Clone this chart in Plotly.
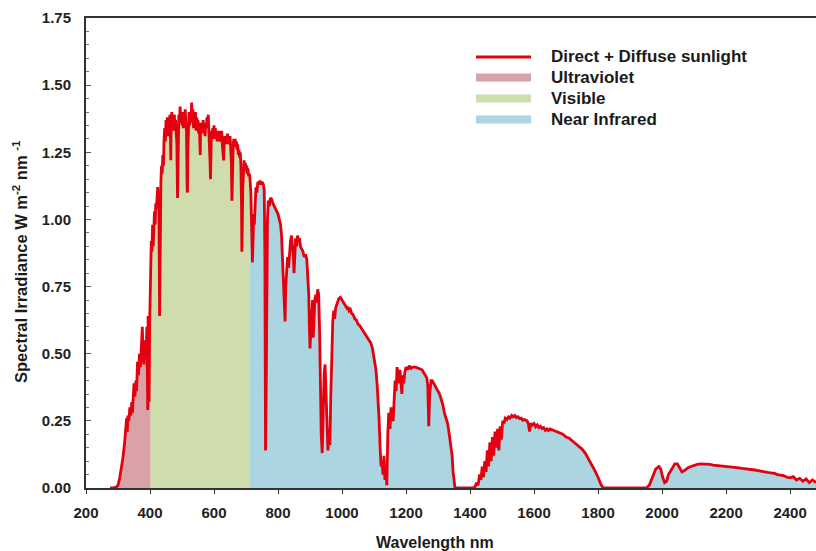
import plotly.graph_objects as go

# Solar spectral irradiance (direct + diffuse), W m^-2 nm^-1, as (nm, value) pairs
spectrum = [
    # ultraviolet
    (275, 0.0), (285, 0.0), (295, 0.004), (300, 0.01), (305, 0.035), (310, 0.07), (315, 0.11),
    (320, 0.16), (325, 0.23), (327, 0.26), (329, 0.21), (331, 0.27), (334, 0.25), (337, 0.30),
    (340, 0.27), (343, 0.32), (345, 0.28), (348, 0.36), (350, 0.39), (353, 0.34), (356, 0.40),
    (358, 0.36), (361, 0.47), (364, 0.42), (367, 0.50), (370, 0.45), (373, 0.52), (376, 0.60),
    (378, 0.50), (381, 0.46), (384, 0.55), (386, 0.54), (388, 0.48), (390, 0.60), (392, 0.40),
    (393, 0.29), (394, 0.64), (396, 0.50), (397, 0.32), (399, 0.62), (402, 0.80),
    # visible
    (404, 0.92), (406, 0.88), (408, 0.98), (410, 0.90), (412, 1.00), (414, 1.03), (416, 0.98),
    (418, 1.06), (420, 1.04), (422, 1.09), (424, 1.12), (426, 1.08), (428, 1.02), (430, 0.64),
    (432, 1.04), (434, 1.14), (436, 1.20), (438, 1.17), (440, 1.24), (442, 1.20), (444, 1.30),
    (446, 1.34), (448, 1.29), (450, 1.37), (452, 1.33), (454, 1.38), (456, 1.31), (458, 1.36),
    (460, 1.33), (462, 1.39), (464, 1.30), (465, 1.22), (466, 1.36), (468, 1.40), (470, 1.35),
    (472, 1.38), (474, 1.33), (476, 1.39), (478, 1.34), (480, 1.37), (482, 1.32), (484, 1.28),
    (486, 1.08), (488, 1.30), (490, 1.39), (492, 1.36), (494, 1.42), (496, 1.37), (498, 1.40),
    (500, 1.35), (502, 1.39), (504, 1.34), (506, 1.40), (508, 1.37), (510, 1.41), (512, 1.36),
    (514, 1.33), (516, 1.12), (517, 1.10), (518, 1.25), (520, 1.36), (522, 1.40), (524, 1.35),
    (526, 1.39), (528, 1.36), (530, 1.435), (532, 1.38), (534, 1.41), (536, 1.34), (538, 1.39),
    (540, 1.36), (542, 1.40), (544, 1.33), (546, 1.38), (548, 1.34), (550, 1.37), (552, 1.32),
    (554, 1.36), (556, 1.28), (557, 1.24), (558, 1.34), (560, 1.32), (562, 1.36), (564, 1.33),
    (566, 1.37), (568, 1.32), (570, 1.35), (572, 1.31), (574, 1.36), (576, 1.34), (578, 1.38),
    (580, 1.35), (582, 1.39), (584, 1.34), (586, 1.30), (588, 1.20), (589, 1.15), (590, 1.24),
    (592, 1.33), (594, 1.30), (596, 1.34), (598, 1.31), (600, 1.35), (602, 1.30), (604, 1.34),
    (606, 1.31), (608, 1.33), (610, 1.29), (612, 1.33), (614, 1.30), (616, 1.33), (618, 1.29),
    (620, 1.32), (622, 1.30), (624, 1.33), (626, 1.28), (628, 1.24), (630, 1.22), (632, 1.29),
    (634, 1.31), (636, 1.28), (638, 1.31), (640, 1.29), (642, 1.32), (644, 1.28), (646, 1.31),
    (648, 1.29), (650, 1.31), (652, 1.27), (654, 1.22), (656, 1.07), (658, 1.20), (660, 1.28),
    (662, 1.30), (664, 1.27), (666, 1.30), (668, 1.27), (670, 1.29), (672, 1.26), (674, 1.28),
    (676, 1.24), (678, 1.26), (680, 1.23), (682, 1.25), (684, 1.20), (686, 1.05), (687, 0.88),
    (688, 0.95), (690, 1.12), (692, 1.19), (694, 1.22), (696, 1.19), (698, 1.21), (700, 1.18),
    (702, 1.20), (704, 1.17), (706, 1.19), (708, 1.16), (710, 1.17), (712, 1.16),
    # near infrared
    (715, 1.10), (718, 0.95), (720, 0.84), (722, 0.92), (724, 1.02), (726, 0.98), (728, 1.08),
    (731, 1.12), (734, 1.10), (737, 1.14), (740, 1.13), (743, 1.145), (746, 1.13), (750, 1.14),
    (754, 1.13), (757, 1.11), (759, 0.85), (761, 0.14), (763, 0.35), (765, 0.80), (767, 1.00),
    (770, 1.07), (773, 1.05), (776, 1.08), (780, 1.075), (784, 1.06), (788, 1.05), (792, 1.04),
    (796, 1.03), (800, 1.02), (804, 1.00), (808, 0.98), (811, 0.94), (814, 0.86), (817, 0.78),
    (820, 0.70), (822, 0.62), (824, 0.75), (827, 0.80), (830, 0.86), (833, 0.82), (836, 0.90),
    (839, 0.92), (842, 0.94), (845, 0.91), (848, 0.86), (850, 0.80), (852, 0.88), (855, 0.93),
    (858, 0.90), (861, 0.94), (864, 0.92), (867, 0.93), (870, 0.90), (874, 0.89), (878, 0.88),
    (882, 0.86), (886, 0.87), (890, 0.85), (893, 0.80), (896, 0.72), (898, 0.60), (900, 0.52),
    (902, 0.58), (905, 0.66), (908, 0.70), (910, 0.56), (912, 0.62), (915, 0.70), (918, 0.72),
    (921, 0.69), (924, 0.74), (927, 0.72), (930, 0.58), (932, 0.40), (935, 0.20), (938, 0.13),
    (941, 0.28), (944, 0.42), (947, 0.46), (950, 0.32), (953, 0.20), (956, 0.14), (959, 0.22),
    (962, 0.16), (965, 0.35), (968, 0.52), (971, 0.62), (974, 0.66), (977, 0.63), (980, 0.67),
    (985, 0.69), (990, 0.705), (995, 0.71), (1000, 0.70), (1005, 0.69), (1010, 0.685),
    (1015, 0.67), (1018, 0.675), (1022, 0.66), (1026, 0.665), (1030, 0.65), (1035, 0.645),
    (1040, 0.63), (1045, 0.625), (1050, 0.61), (1055, 0.605), (1060, 0.595), (1065, 0.59),
    (1070, 0.58), (1075, 0.57), (1080, 0.56), (1085, 0.55), (1090, 0.54), (1095, 0.52),
    (1100, 0.49), (1103, 0.47), (1106, 0.44), (1110, 0.38), (1113, 0.33), (1116, 0.25),
    (1119, 0.15), (1122, 0.08), (1125, 0.10), (1128, 0.05), (1131, 0.12), (1134, 0.03),
    (1137, 0.08), (1140, 0.01), (1143, 0.20), (1146, 0.28), (1150, 0.22), (1153, 0.30),
    (1156, 0.26), (1160, 0.25), (1163, 0.33), (1166, 0.40), (1169, 0.36), (1172, 0.45),
    (1175, 0.42), (1178, 0.39), (1181, 0.44), (1184, 0.38), (1187, 0.35), (1190, 0.42),
    (1193, 0.39), (1196, 0.43), (1200, 0.45), (1205, 0.44), (1210, 0.455), (1215, 0.445),
    (1220, 0.45), (1230, 0.45), (1240, 0.445), (1250, 0.44), (1255, 0.43), (1260, 0.42),
    (1265, 0.41), (1268, 0.38), (1271, 0.23), (1274, 0.35), (1278, 0.40), (1282, 0.40),
    (1286, 0.39), (1290, 0.38), (1295, 0.37), (1300, 0.36), (1305, 0.35), (1310, 0.33),
    (1315, 0.31), (1320, 0.28), (1325, 0.26), (1330, 0.24), (1335, 0.20), (1340, 0.15),
    (1344, 0.12), (1347, 0.06), (1350, 0.02), (1353, 0.0), (1380, 0.0), (1410, 0.0),
    (1416, 0.005), (1420, 0.02), (1425, 0.01), (1430, 0.05), (1434, 0.03), (1438, 0.08),
    (1442, 0.04), (1446, 0.10), (1450, 0.06), (1454, 0.14), (1458, 0.08), (1462, 0.17),
    (1466, 0.10), (1470, 0.19), (1474, 0.12), (1478, 0.21), (1482, 0.15), (1486, 0.22),
    (1490, 0.14), (1494, 0.23), (1498, 0.18), (1502, 0.25), (1506, 0.24), (1510, 0.26),
    (1515, 0.255), (1520, 0.265), (1525, 0.26), (1530, 0.27), (1535, 0.265), (1540, 0.27),
    (1545, 0.262), (1550, 0.265), (1555, 0.258), (1560, 0.26), (1565, 0.252), (1570, 0.255),
    (1578, 0.25), (1582, 0.24), (1586, 0.21), (1590, 0.24), (1595, 0.235), (1600, 0.24),
    (1605, 0.228), (1610, 0.235), (1615, 0.225), (1620, 0.23), (1625, 0.222), (1630, 0.225),
    (1635, 0.215), (1640, 0.22), (1645, 0.214), (1650, 0.22), (1660, 0.215), (1670, 0.21),
    (1680, 0.205), (1690, 0.20), (1700, 0.19), (1710, 0.185), (1720, 0.175), (1730, 0.165),
    (1740, 0.155), (1750, 0.145), (1760, 0.13), (1770, 0.11), (1780, 0.09), (1790, 0.065),
    (1800, 0.04), (1808, 0.015), (1816, 0.0), (1900, 0.0), (1950, 0.0), (1960, 0.01),
    (1970, 0.04), (1980, 0.07), (1990, 0.08), (1996, 0.07), (2002, 0.04), (2008, 0.02),
    (2014, 0.025), (2020, 0.05), (2030, 0.07), (2040, 0.09), (2048, 0.09), (2055, 0.075),
    (2062, 0.06), (2070, 0.065), (2080, 0.075), (2090, 0.08), (2100, 0.085), (2110, 0.088),
    (2120, 0.09), (2130, 0.09), (2140, 0.089), (2150, 0.088), (2160, 0.085), (2170, 0.084),
    (2180, 0.082), (2190, 0.081), (2200, 0.079), (2210, 0.078), (2220, 0.077), (2230, 0.076),
    (2240, 0.075), (2250, 0.073), (2260, 0.072), (2270, 0.07), (2280, 0.068), (2290, 0.067),
    (2300, 0.065), (2310, 0.062), (2320, 0.06), (2330, 0.058), (2340, 0.056), (2350, 0.055),
    (2360, 0.05), (2370, 0.048), (2380, 0.046), (2390, 0.04), (2400, 0.038), (2410, 0.042),
    (2420, 0.03), (2430, 0.036), (2440, 0.025), (2450, 0.034), (2460, 0.02), (2470, 0.03),
    (2481, 0.02),
]
wavelength_nm = [w for w, _ in spectrum]
irradiance = [v for _, v in spectrum]

# Spectral bands shaded under the curve
band_names = ["Ultraviolet", "Visible", "Near Infrared"]
band_start = [275, 402, 712]
band_end = [402, 712, 2481]
band_colors = ["#d9a2a7", "#cfdcab", "#acd5e2"]

line_color = "#e3000f"
line_label = "Direct + Diffuse sunlight"

x_ticks = [200, 400, 600, 800, 1000, 1200, 1400, 1600, 1800, 2000, 2200, 2400]
y_ticks = [0.0, 0.25, 0.5, 0.75, 1.0, 1.25, 1.5, 1.75]

fig = go.Figure()

for name, lo, hi, col in zip(band_names, band_start, band_end, band_colors):
    xs = [w for w in wavelength_nm if lo <= w <= hi]
    ys = [v for w, v in zip(wavelength_nm, irradiance) if lo <= w <= hi]
    fig.add_trace(go.Scatter(
        x=xs, y=ys, mode="lines", fill="tozeroy", fillcolor=col,
        line=dict(width=0, color=col), name=name, showlegend=False,
        hoverinfo="skip",
    ))

fig.add_trace(go.Scatter(
    x=wavelength_nm, y=irradiance, mode="lines",
    line=dict(color=line_color, width=2.8, shape="linear"),
    name=line_label, showlegend=False,
))

# Plot area in pixels, used to place the hand-built legend and axis titles
L, R, T, B = 86, 816, 18, 488
W, H = R - L, B - T


def px(xp):
    return (xp - L) / W


def py(yp):
    return (B - yp) / H


text_font = dict(family="Liberation Sans, Arial, sans-serif", size=17, color="#1b1b1b", weight="bold")

shapes = []
annotations = []
legend_rows = [(line_label, line_color, "line", 57),
               (band_names[0], band_colors[0], "box", 77.5),
               (band_names[1], band_colors[1], "box", 98.5),
               (band_names[2], band_colors[2], "box", 119.5)]
for label, col, kind, yc in legend_rows:
    if kind == "line":
        shapes.append(dict(type="line", xref="paper", yref="paper",
                           x0=px(476), x1=px(531), y0=py(yc), y1=py(yc),
                           line=dict(color=col, width=3)))
    else:
        shapes.append(dict(type="rect", xref="paper", yref="paper",
                           x0=px(476), x1=px(531), y0=py(yc - 4), y1=py(yc + 4),
                           fillcolor=col, line=dict(width=0)))
    annotations.append(dict(text=label, xref="paper", yref="paper", x=px(549), y=py(yc),
                            xanchor="left", yanchor="middle", showarrow=False, font=text_font))

axis_title_font = dict(family="Liberation Sans, Arial, sans-serif", size=16, color="#1b1b1b", weight="bold")
annotations.append(dict(text="Wavelength nm", xref="paper", yref="paper", x=px(435), y=py(542),
                        xanchor="center", yanchor="middle", showarrow=False, font=axis_title_font))
annotations.append(dict(text="Spectral Irradiance W m<sup>-2</sup> nm <sup>-1</sup>",
                        xref="paper", yref="paper", x=px(20), y=py(262), textangle=-90,
                        xanchor="center", yanchor="middle", showarrow=False,
                        font=dict(axis_title_font, size=16.5)))

tick_font = dict(family="Liberation Sans, Arial, sans-serif", size=15, color="#222222", weight="bold")

fig.update_layout(
    width=816, height=551,
    margin=dict(l=L, r=816 - R, t=T, b=551 - B, pad=0),
    paper_bgcolor="white", plot_bgcolor="white",
    showlegend=False,
    shapes=shapes, annotations=annotations,
    xaxis=dict(
        range=[200, 2481], tickvals=x_ticks, ticktext=[str(v) for v in x_ticks],
        showgrid=False, zeroline=False, showline=True, linecolor="#333333", linewidth=2,
        mirror=True, ticks="outside", ticklen=4, tickcolor="#333333", tickwidth=1,
        tickfont=tick_font, ticklabelstandoff=6,
    ),
    yaxis=dict(
        range=[0, 1.75], tickvals=y_ticks, ticktext=[f"{v:.2f}" for v in y_ticks],
        showgrid=False, zeroline=False, showline=True, linecolor="#333333", linewidth=2,
        ticks="inside", ticklen=5, tickcolor="#555555", tickwidth=1,
        minor=dict(dtick=0.05, ticks="inside", ticklen=3, tickcolor="#777777", tickwidth=1),
        tickfont=tick_font, ticklabelstandoff=10,
    ),
)

fig.write_html("out.html")
